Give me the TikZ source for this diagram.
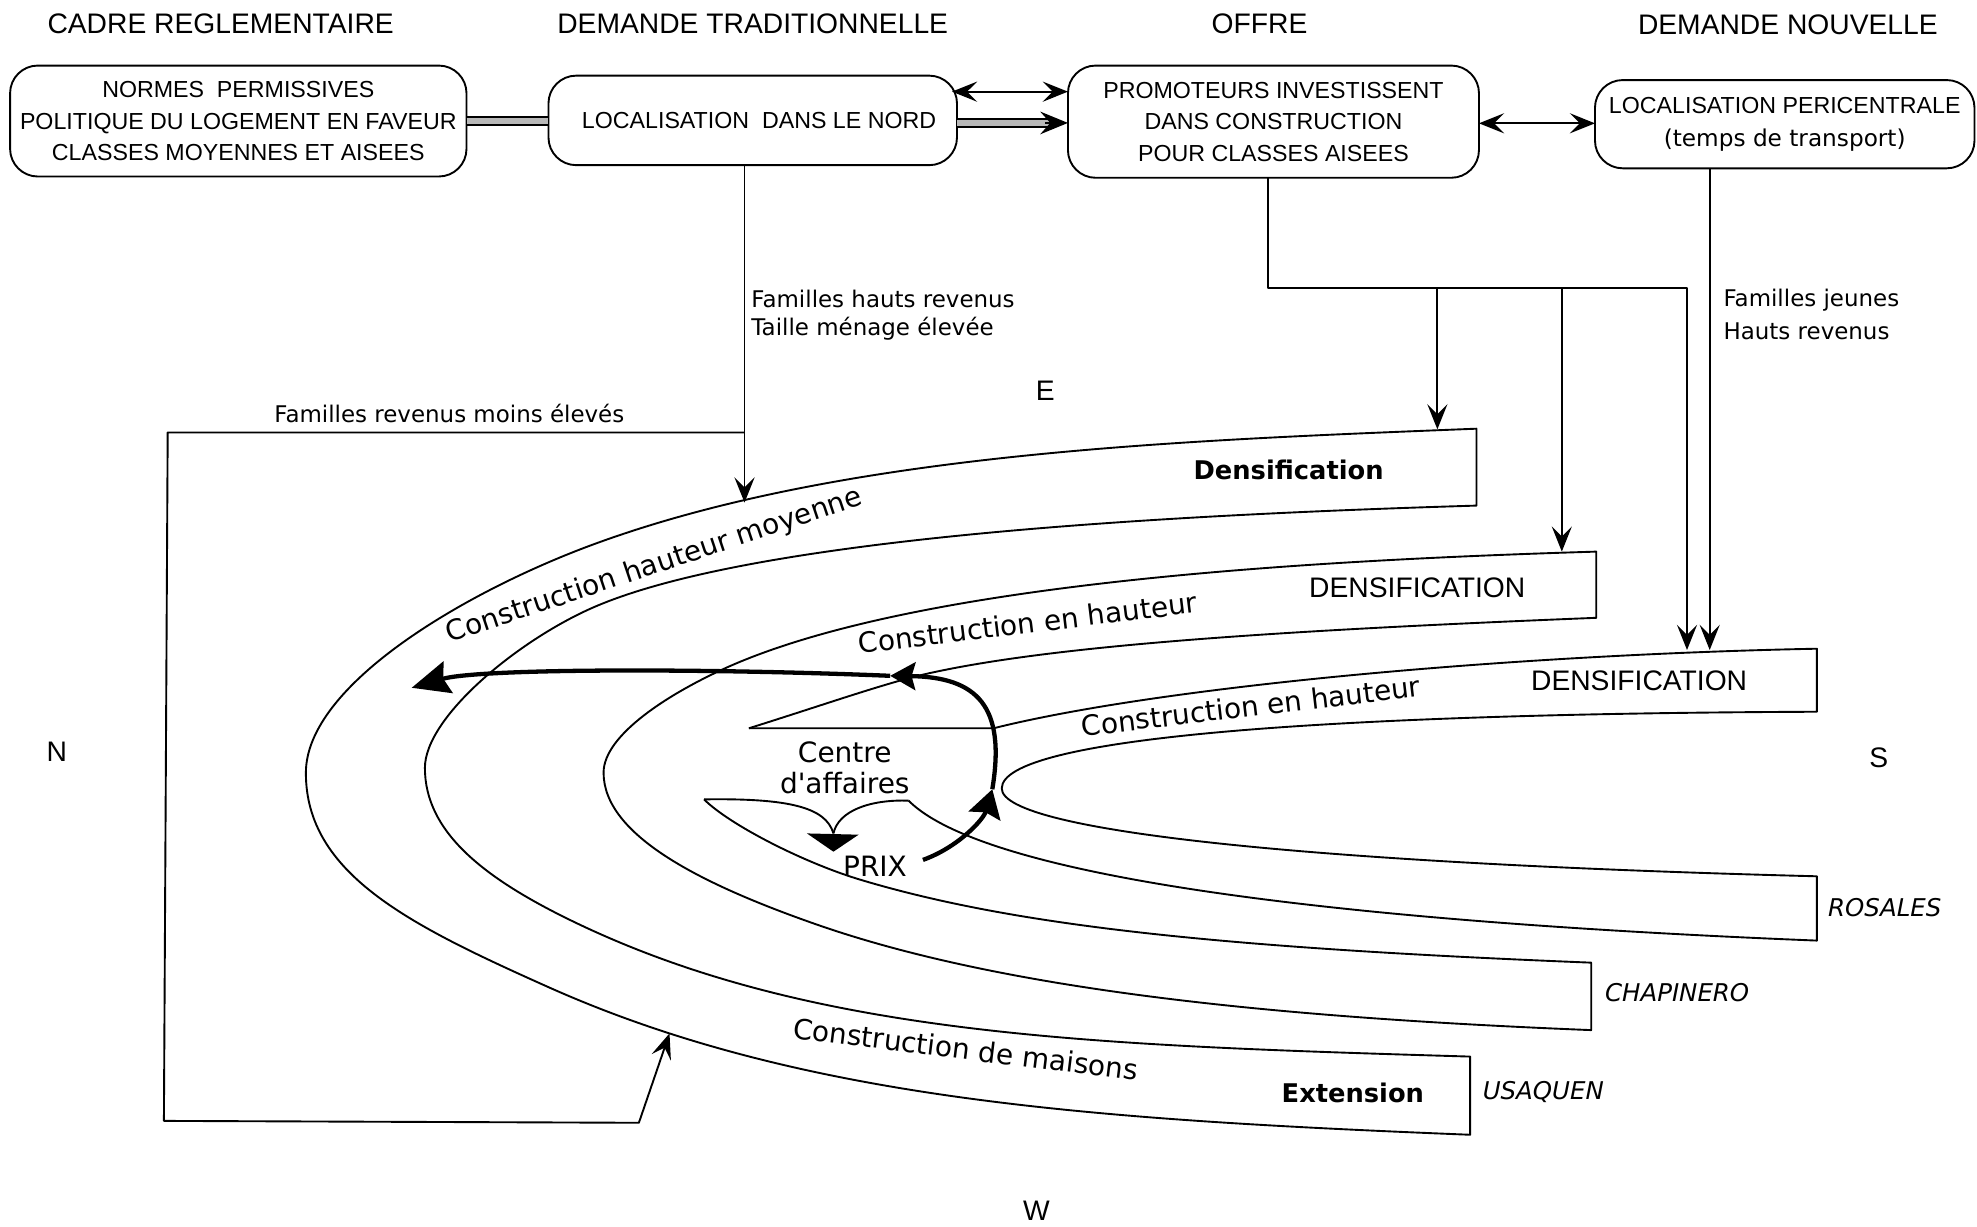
\documentclass[tikz,border=0pt]{standalone}
\usepackage{fontspec}
\setmainfont{Liberation Sans}
\newfontfamily\labfont{DejaVu Sans}
\usetikzlibrary{arrows.meta,calc}

\begin{document}
\begin{tikzpicture}[x=0.5pt,y=-0.5pt,
  every node/.style={inner sep=0pt, outer sep=0pt},
  box/.style={draw, line width=0.75pt, rounded corners=11pt, align=center,
    font=\fontsize{9.2}{12.5}\selectfont},
  head/.style={font=\fontsize{11.2}{13}\selectfont},
  lab/.style={font=\labfont\fontsize{9.1}{12}\selectfont, anchor=west},
  bandlab/.style={font=\labfont\fontsize{11.1}{12.5}\selectfont},
  boldlab/.style={font=\labfont\bfseries\fontsize{10.2}{12}\selectfont},
  place/.style={font=\labfont\itshape\fontsize{9.7}{12}\selectfont, anchor=west},
  edge/.style={line width=0.75pt, line join=round},
  arr/.style={edge, -{Stealth[length=10pt,width=8pt,inset=4pt]}},
  dblarr/.style={edge, {Stealth[length=10pt,width=8pt,inset=4pt]}-{Stealth[length=10pt,width=8pt,inset=4pt]}},
  bar/.style={line width=0.7pt, double=black!28, double distance=2.6pt},
  thk/.style={line width=1.7pt}
]
\useasboundingbox (0,0) rectangle (1568,973);
\fill[white] (0,0) rectangle (1568,973);

% column headings
\node[head] at (175,19) {CADRE REGLEMENTAIRE};
\node[head] at (597,19) {DEMANDE TRADITIONNELLE};
\node[head] at (999,19) {OFFRE};
\node[head] at (1418,20) {DEMANDE NOUVELLE};

% boxes
\node[box, minimum width=181pt, minimum height=44pt] (A) at (189,96)
  {NORMES\ \ PERMISSIVES\\POLITIQUE DU LOGEMENT EN FAVEUR\\CLASSES MOYENNES ET AISEES};
\node[box, minimum width=162pt, minimum height=35.5pt] (B) at (597,95.5)
  {\hspace*{5pt}LOCALISATION\ \ DANS LE NORD};
\node[box, minimum width=163pt, minimum height=44.5pt] (C) at (1010,96.5)
  {PROMOTEURS INVESTISSENT\\DANS CONSTRUCTION\\POUR CLASSES AISEES};
\node[box, minimum width=150.5pt, minimum height=35pt] (D) at (1415.5,98.5)
  {LOCALISATION PERICENTRALE\\[0.5pt]{\labfont (temps de transport)}};

% links between the boxes
\draw[bar] (A.east) -- (A.east -| B.west);
\coordinate (bc1) at ($(B.east)+(0,2)$);
\coordinate (bc2) at (bc1 -| C.west);
\draw[bar] (bc1) -- ($(bc2)+(-14,0)$);
\draw[edge, -{Stealth[length=11pt,width=9pt,inset=4pt]}] ($(bc2)+(-18,0)$) -- (bc2);
\coordinate (bt1) at ($(B.east)+(-4,-22.8)$);
\coordinate (bt2) at (bt1 -| C.west);
\draw[dblarr] (bt1) -- (bt2);
\draw[dblarr] ($(C.east)+(0,1.3)$) -- ($(C.east -| D.west)+(0,1.3)$);

% traditional demand flows
\coordinate (x590) at (590.5,0);
\coordinate (t1) at (590.5,398.6);
\coordinate (j1) at (590.5,343);
\coordinate (u1) at (531,819.6);
\draw[arr] (B.south -| x590) -- (t1);
\draw[arr] (j1) -- (133,343) -- (130,889) -- (506.7,890.5) -- (u1);
\node[lab] at (596,237) {Familles hauts revenus};
\node[lab] at (596,261) {Taille ménage élevée};
\node[font=\labfont\fontsize{9.1}{12}\selectfont] at (356.4,327.8) {Familles revenus moins élevés};

% supply flows
\coordinate (x1006) at (1006,0);
\coordinate (c1) at (1006,228.5);
\coordinate (c2) at (1338,228.5);
\coordinate (d1) at (1140,340.5);
\coordinate (d2) at (1238.7,437.5);
\coordinate (d3) at (1338,515.5);
\draw[arr] (C.south -| x1006) -- (c1) -- (c2) -- (d3);
\draw[arr] (c1 -| d1) -- (d1);
\draw[arr] (c1 -| d2) -- (d2);

% new demand flow
\coordinate (x1356) at (1356,0);
\coordinate (d4) at (1356,515.5);
\draw[arr] (D.south -| x1356) -- (d4);
\node[lab] at (1367,238) {Familles jeunes};
\node[lab] at (1367,263) {Hauts revenus};

% outer band (Usaquen)
\draw[edge] (1171,340) .. controls (941,349.2) and (670,358.2) .. (470,432)
  .. controls (370,468.9) and (242.6,543) .. (242.6,613)
  .. controls (242.6,693) and (324.5,733.5) .. (434.5,782.7)
  .. controls (634.5,872.2) and (866,888) .. (1166,900)
  -- (1166,838)
  .. controls (866,829) and (642,822.3) .. (452,729.6)
  .. controls (382,695.4) and (337,659) .. (337,609)
  .. controls (337,569) and (410,508.4) .. (470,482)
  .. controls (600,424.8) and (941,407.9) .. (1171,401)
  -- cycle;

% middle band (Chapinero)
\draw[edge] (594,577.6) .. controls (650,560) and (690,546) .. (724,537)
  .. controls (824,512) and (1016,500) .. (1266,490)
  -- (1266,437.5)
  .. controls (1036,444.4) and (726,462.1) .. (576,529.6)
  .. controls (531,549.9) and (478.7,582.8) .. (478.7,612.8)
  .. controls (478.7,662.8) and (557,701.5) .. (647,733)
  .. controls (797,785.5) and (1012,807) .. (1262,817)
  -- (1262,763.5)
  .. controls (962,751.5) and (802.3,733.7) .. (682.3,697.7)
  .. controls (637.3,684.2) and (578.4,654) .. (558.4,634);

% inner band (Rosales)
\draw[edge] (594,577.6) -- (788,577.6)
  .. controls (918,545.1) and (1191,519.5) .. (1441,514.5)
  -- (1441,564.5)
  .. controls (1050,566) and (794.5,585) .. (794.5,625.3)
  .. controls (794.5,660) and (1050,685) .. (1441,695)
  -- (1441,746)
  .. controls (1141,734) and (790.6,705) .. (720.6,635);

% business centre funnel towards prices
\coordinate (fl) at (558.4,634);
\coordinate (fr) at (720.6,635);
\coordinate (fv) at (661,661);
\draw[edge] (fl) .. controls (625,633) and (655,640) .. (fv);
\draw[edge] (fr) .. controls (690,634) and (665,643) .. (fv);
\fill (640,661) -- (681,662) -- (661,675.5) -- cycle;

\node[bandlab, align=center] (cda) at (670,609) {Centre\\d'affaires};
\node[bandlab] (prix) at (694,687) {PRIX};

% price feedback loop
\coordinate (k0) at (732,682);
\coordinate (k1) at (787,626);
\coordinate (k2) at (706,536);
\coordinate (k3) at (326.5,545.5);
\draw[thk, -{Stealth[length=11pt,width=13pt,inset=1.5pt]}] (k0) .. controls (760,672) and (780,650) .. (k1);
\draw[thk, -{Stealth[length=10pt,width=11pt,inset=1.5pt]}] (k1) .. controls (798,560) and (775,537) .. (k2);
\draw[thk, -{Stealth[length=15pt,width=13pt,inset=2pt]}] (k2) .. controls (560,530) and (380,530) .. (k3);

% band labels
\node[bandlab, rotate=18.5] at (519,449) {Construction hauteur moyenne};
\node[bandlab, rotate=7] at (815,494) {Construction en hauteur};
\node[bandlab, rotate=6.7] at (992,560) {Construction en hauteur};
\node[bandlab, rotate=-7] at (766,832) {Construction de maisons};
\node[boldlab] at (1022,373) {Densification};
\node[head] at (1124,466) {DENSIFICATION};
\node[head] at (1300,540) {DENSIFICATION};
\node[boldlab] at (1073,867) {Extension};
\node[place] at (1176,866) {USAQUEN};
\node[place] at (1273,787) {CHAPINERO};
\node[place] at (1450,720) {ROSALES};

% compass points
\node[head] at (829,310) {E};
\node[head] at (45,596) {N};
\node[head] at (1490,601) {S};
\node[head] at (822,960) {W};
\end{tikzpicture}
\end{document}
